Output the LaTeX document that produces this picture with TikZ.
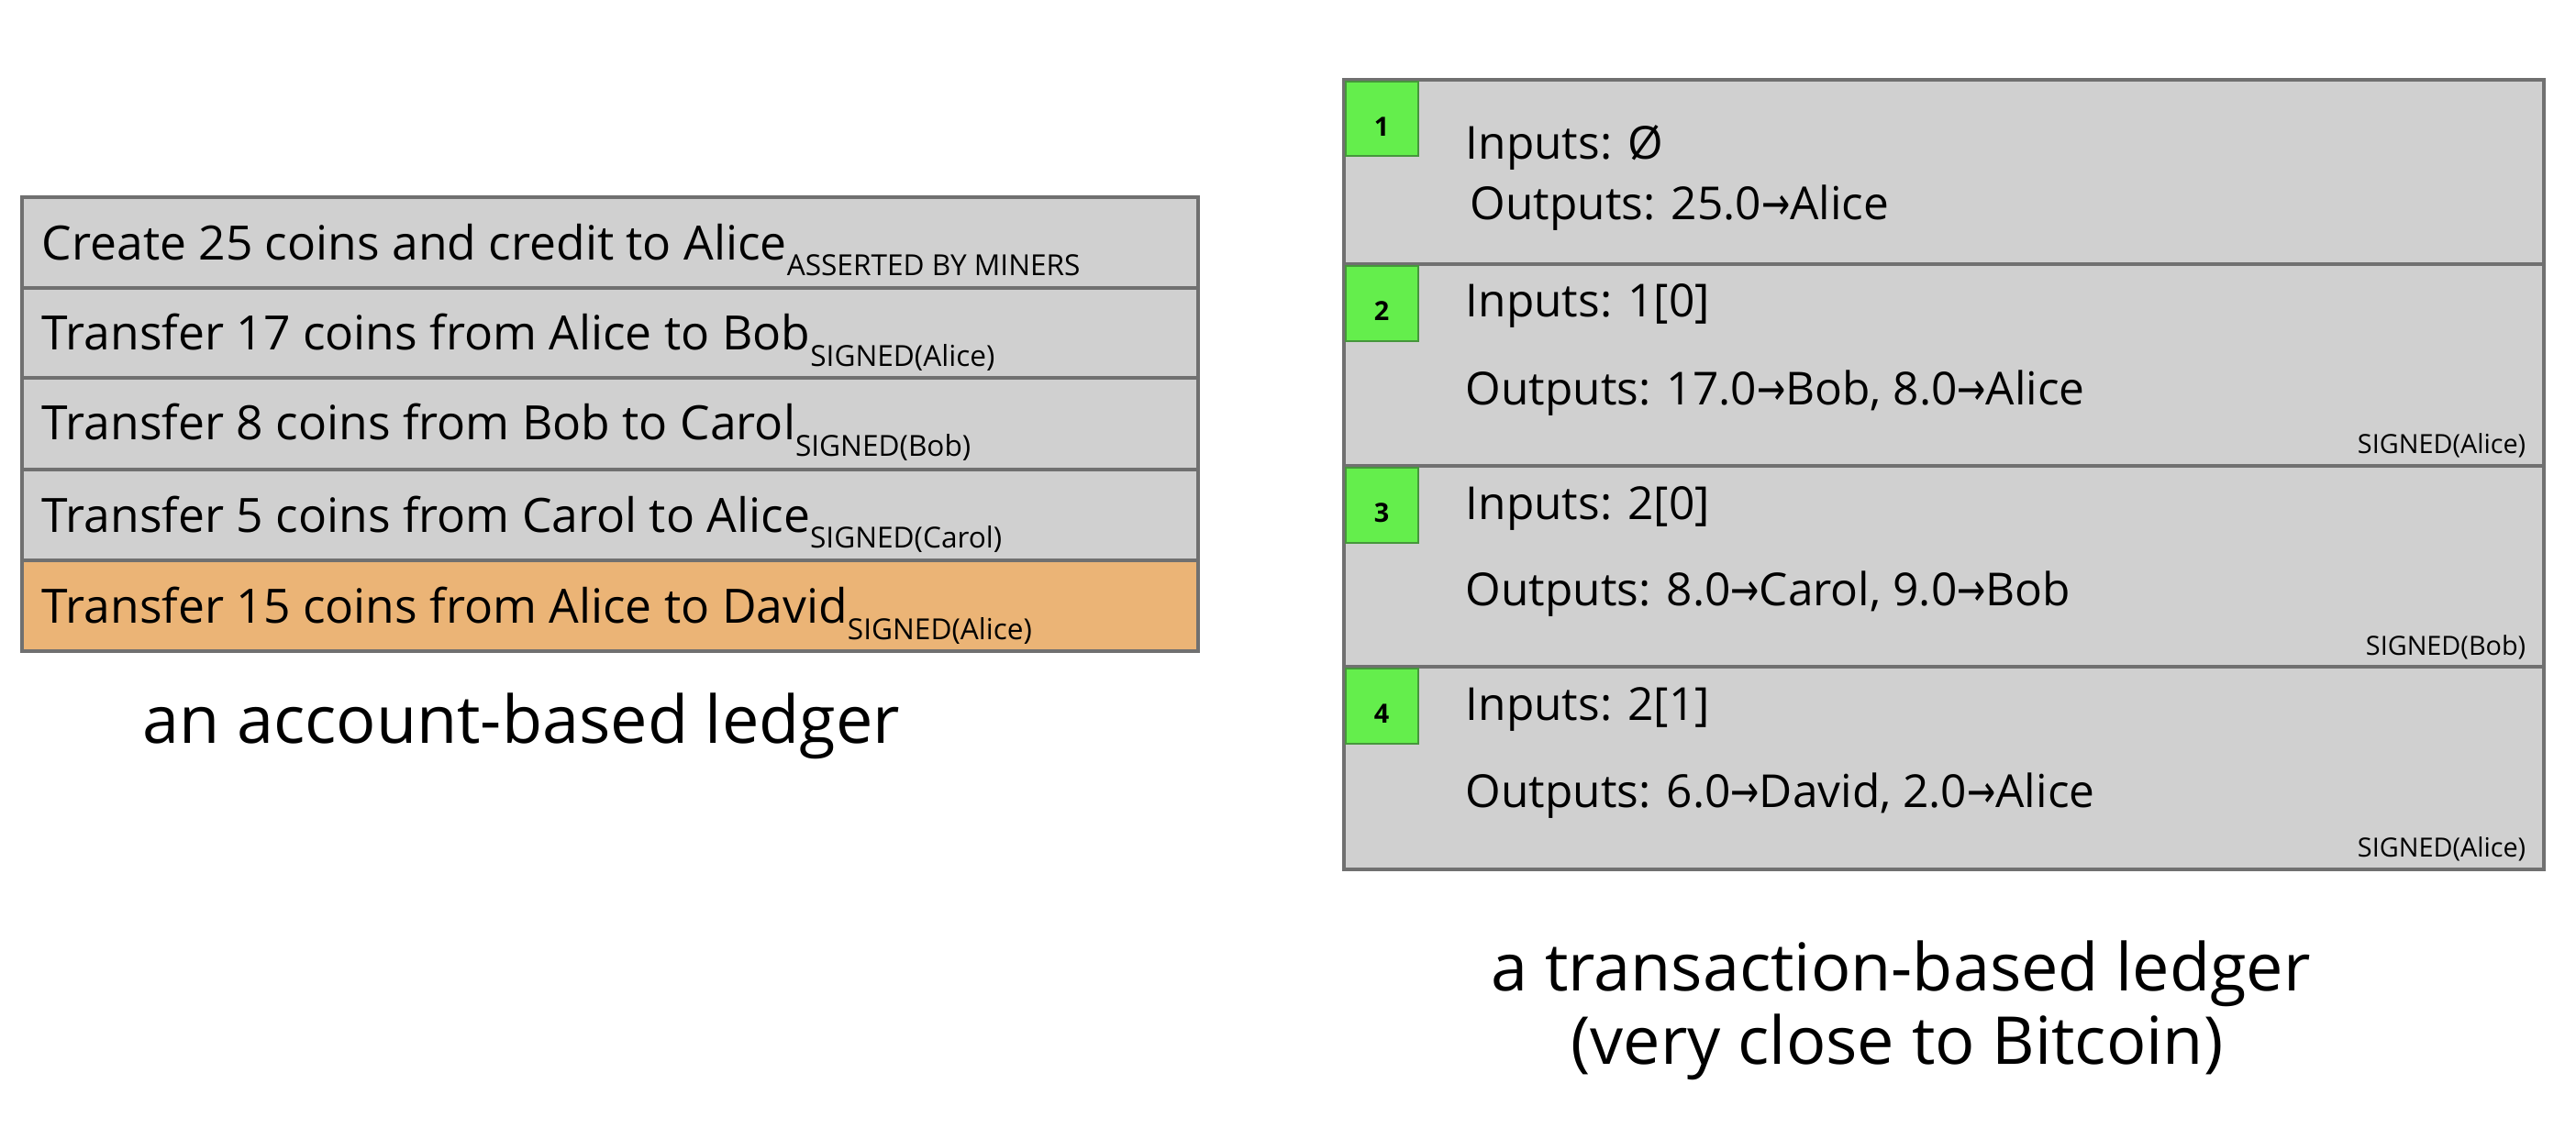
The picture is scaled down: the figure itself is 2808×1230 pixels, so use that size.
\documentclass[tikz,border=0pt]{standalone}
\usepackage{fontspec}
\setmainfont{Open Sans}
\newfontfamily\arrowfont{DejaVu Sans}
\definecolor{rowgray}{RGB}{208,208,208}
\definecolor{linegray}{RGB}{112,112,112}
\definecolor{orangerow}{RGB}{235,180,118}
\definecolor{greenbox}{RGB}{100,238,76}
\definecolor{greenline}{RGB}{70,150,60}
\newcommand{\ar}{{\arrowfont\scalebox{0.75}[1]{→}}}
\newcommand{\subtxt}[1]{\raisebox{-4.5pt}{\fontsize{7.9}{9}\selectfont #1}}
\begin{document}
\begin{tikzpicture}[x=0.25pt,y=-0.25pt,
  rowbox/.style={draw=linegray, line width=1pt, fill=rowgray},
  orangebox/.style={draw=linegray, line width=1pt, fill=orangerow},
  numbox/.style={draw=greenline, line width=0.4pt, fill=greenbox},
  ltext/.style={anchor=base west, inner sep=0pt, font=\fontsize{12.9}{15}\selectfont},
  rtext/.style={anchor=base west, inner sep=0pt, font=\fontsize{12.4}{15}\selectfont},
  sigtext/.style={anchor=base east, inner sep=0pt, font=\fontsize{7.2}{8}\selectfont},
  numtext/.style={inner sep=0pt, font=\fontsize{7.2}{8}\selectfont\bfseries},
  captext/.style={anchor=base, inner sep=0pt, font=\fontsize{18}{21}\selectfont}]
\useasboundingbox (0,0) rectangle (2808,1230);

% ---- account-based ledger ----
\path[rowbox] (24,215) rectangle (1306,314);
\path[rowbox] (24,314) rectangle (1306,412);
\path[rowbox] (24,412) rectangle (1306,512);
\path[rowbox] (24,512) rectangle (1306,611);
\path[orangebox] (24,611) rectangle (1306,710);

\node[ltext] (a1) at (45,283) {Create 25 coins and credit to Alice\subtxt{ASSERTED BY MINERS}};
\node[ltext] (a2) at (45,382) {Transfer 17 coins from Alice to Bob\subtxt{SIGNED(Alice)}};
\node[ltext] (a3) at (45,480) {Transfer 8 coins from Bob to Carol\subtxt{SIGNED(Bob)}};
\node[ltext] (a4) at (45,580) {Transfer 5 coins from Carol to Alice\subtxt{SIGNED(Carol)}};
\node[ltext] (a5) at (45,679) {Transfer 15 coins from Alice to David\subtxt{SIGNED(Alice)}};

\node[captext] (cap1) at (568,810) {an account-based ledger};

% ---- transaction-based ledger ----
\path[rowbox] (1465,87) rectangle (2773,288);
\path[rowbox] (1465,288) rectangle (2773,508);
\path[rowbox] (1465,508) rectangle (2773,727);
\path[rowbox] (1465,727) rectangle (2773,948);

\path[numbox] (1467,89) rectangle (1546,170);
\path[numbox] (1467,290) rectangle (1546,372);
\path[numbox] (1467,510) rectangle (1546,592);
\path[numbox] (1467,729) rectangle (1546,811);
\node[numtext] (n1) at (1506,138) {1};
\node[numtext] (n2) at (1506,339) {2};
\node[numtext] (n3) at (1506,559) {3};
\node[numtext] (n4) at (1506,778) {4};

\node[rtext] (i1) at (1597,174) {Inputs: Ø};
\node[rtext] (o1) at (1602,240) {Outputs: 25.0\ar Alice};

\node[rtext] (i2) at (1597,346) {Inputs: 1[0]};
\node[rtext] (o2) at (1597,441) {Outputs: 17.0\ar Bob, 8.0\ar Alice};
\node[sigtext] (s2) at (2754,495) {SIGNED(Alice)};

\node[rtext] (i3) at (1597,566) {Inputs: 2[0]};
\node[rtext] (o3) at (1597,660) {Outputs: 8.0\ar Carol, 9.0\ar Bob};
\node[sigtext] (s3) at (2754,714) {SIGNED(Bob)};

\node[rtext] (i4) at (1597,785) {Inputs: 2[1]};
\node[rtext] (o4) at (1597,880) {Outputs: 6.0\ar David, 2.0\ar Alice};
\node[sigtext] (s4) at (2754,934) {SIGNED(Alice)};

\node[captext] (cap2) at (2072,1080) {a transaction-based ledger};
\node[captext] (cap3) at (2068,1160) {(very close to Bitcoin)};
\end{tikzpicture}
\end{document}
